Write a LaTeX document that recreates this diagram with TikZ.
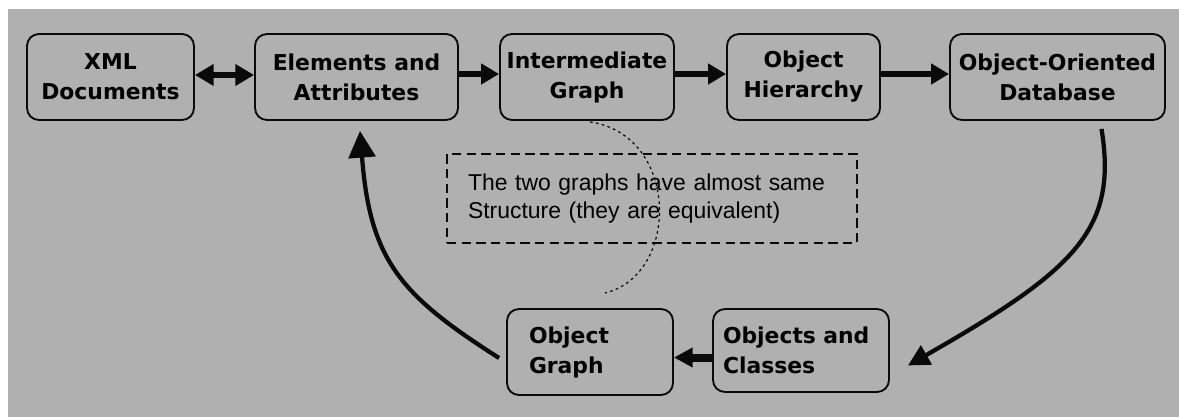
\documentclass[tikz,border=0pt]{standalone}
\usepackage{fontspec}
\newfontfamily\lblfont{DejaVu Sans}
\newfontfamily\notefont{Liberation Sans}
\usetikzlibrary{arrows.meta,calc}
\definecolor{bg}{HTML}{B0B0B0}
\definecolor{ink}{HTML}{0A0A0A}
\begin{document}
\begin{tikzpicture}[x=0.75pt,y=-0.75pt,
  box/.style={draw=ink, line width=1.4pt, rounded corners=9pt,
    font=\lblfont\bfseries\fontsize{16.4}{22.5}\selectfont, align=center,
    inner sep=0pt, minimum height=64.5pt},
  leftbox/.style={box, align=left},
  notebox/.style={draw=ink, line width=1.4pt, dash pattern=on 7pt off 4pt,
    font=\notefont\fontsize{17.2}{21}\selectfont, align=left,
    inner xsep=15.75pt, inner ysep=0pt, text width=276pt, minimum height=66.75pt},
  flow/.style={draw=ink, line width=4.6pt, -{Triangle[length=13.5pt,width=15pt]}},
  dflow/.style={draw=ink, line width=5pt, {Triangle[length=14pt,width=15.5pt]}-{Triangle[length=14pt,width=15.5pt]}},
  sflow/.style={draw=ink, line width=6pt, -{Triangle[length=14pt,width=14pt]}},
  curvearrow/.style={draw=ink, line width=3.2pt},
  link/.style={draw=ink, line width=0.9pt, dash pattern=on 2pt off 2.5pt}
]
\fill[white] (0,0) rectangle (1179,417);
\fill[bg] (8,9) rectangle (1179,417);
\useasboundingbox (0,0) rectangle (1179,417);

\node[box, minimum width=125.25pt] (xml) at (110.5,77) {XML\\Documents};
\node[box, minimum width=152.25pt] (el) at (356.5,77) {Elements and\\Attributes};
\node[box, minimum width=130.5pt] (int) at (587,77) {Intermediate\\Graph};
\node[box, minimum width=114.75pt] (oh) at (803.5,77) {Object\\Hierarchy};
\node[box, minimum width=161.25pt] (oodb) at (1057.5,77) {Object-Oriented\\Database};

\node[leftbox, inner xsep=16.5pt, text width=91.5pt] (og) at (590,352) {Object\\Graph\\[2pt]};
\node[leftbox, inner xsep=7.5pt, text width=117pt, minimum height=62.25pt] (oc) at (801,350.5) {Objects and\\Classes\\[2pt]};

\node[notebox] (note) at (652,198.5) {The two graphs have almost same\\Structure (they are equivalent)\\[2pt]};

\draw[dflow] ($(xml.east)+(0,-2)$) -- ($(el.west)+(0,-2)$);
\draw[flow] ($(el.east)+(0,-3)$) -- ($(int.west)+(0,-3)$);
\draw[flow] ($(int.east)+(0,-3)$) -- ($(oh.west)+(0,-3)$);
\draw[flow] ($(oh.east)+(0,-3)$) -- ($(oodb.west)+(0,-3)$);
\draw[sflow] ($(oc.west)+(0,7)$) -- ($(og.east)+(0,5.5)$);

\coordinate (s1) at ($(oodb.south)+(44,8)$);
\coordinate (e1) at ($(oc.east)+(18,15)$);
\draw[curvearrow, -{Triangle[length=16pt,width=16pt]}] (s1) .. controls (1118,230) and (1075,270) .. (e1);

\coordinate (s2) at ($(og.west)+(-7,6)$);
\coordinate (e2) at ($(el.south)+(3.5,10)$);
\draw[curvearrow, -{Triangle[length=20pt,width=20pt]}] (s2) .. controls (400,295) and (370,260) .. (e2);

\coordinate (s3) at ($(int.south)+(3,1)$);
\coordinate (e3) at (605,293);
\draw[link] (s3) .. controls (680,135) and (680,275) .. (e3);
\end{tikzpicture}
\end{document}
